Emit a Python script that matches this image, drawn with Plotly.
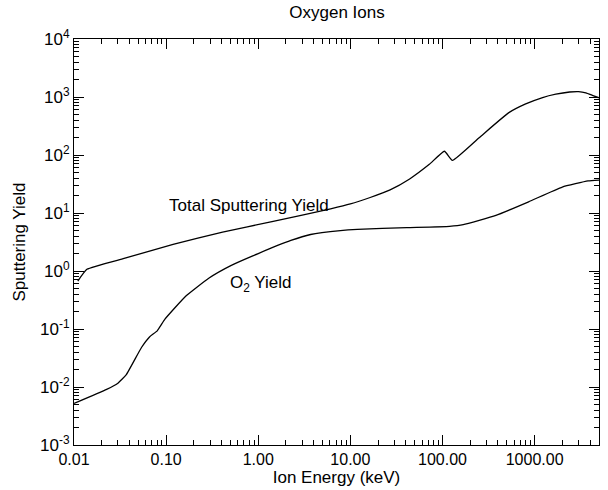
import plotly.graph_objects as go
import numpy as np

# Total sputtering yield
total_energy = [0.011, 0.0138, 0.035, 0.119, 0.41, 1.41, 6.1, 10, 16.4, 27, 44, 72,
                105, 128, 250, 525, 800, 1220, 1700, 2400, 3000, 3600, 4300, 5000]
total_yield = [0.67, 1.07, 1.65, 2.87, 4.7, 7.1, 11.8, 14.3, 18.5, 25, 38.6, 69,
               116, 81, 199, 537, 760, 980, 1120, 1220, 1240, 1180, 1060, 970]

# O2 yield
o2_energy = [0.01, 0.0226, 0.0297, 0.037, 0.054, 0.066, 0.08, 0.0975, 0.164, 0.29, 0.51,
             1.0, 2.26, 3.7, 7.8, 11.9, 41, 119, 168, 380, 861, 1995, 3800, 5000]
o2_yield = [0.0052, 0.0091, 0.0115, 0.0164, 0.048, 0.073, 0.093, 0.149, 0.37, 0.75, 1.25,
            2.0, 3.36, 4.26, 4.98, 5.24, 5.6, 5.9, 6.3, 9.1, 15.6, 28, 35.7, 37]

x_tickvals = [0.01, 0.1, 1, 10, 100, 1000]
x_ticktext = ["0.01", "0.10", "1.00", "10.00", "100.00", "1000.00"]
y_tickvals = [1e-3, 1e-2, 1e-1, 1, 10, 100, 1000, 1e4]
y_ticktext = ["10<sup>-3</sup>", "10<sup>-2</sup>", "10<sup>-1</sup>", "10<sup>0</sup>",
              "10<sup>1</sup>", "10<sup>2</sup>", "10<sup>3</sup>", "10<sup>4</sup>"]

X_RANGE = [-2, np.log10(5000)]
Y_RANGE = [-3, 4]
W, H = 608, 490
ML, MR, MT, MB = 74, 8, 39, 42

FONT = "Liberation Sans, Arial, Helvetica, sans-serif"

fig = go.Figure()
fig.add_trace(go.Scatter(x=total_energy, y=total_yield, mode="lines",
                         line=dict(color="black", width=1.3, shape="spline", smoothing=0.4),
                         showlegend=False))
fig.add_trace(go.Scatter(x=o2_energy, y=o2_yield, mode="lines",
                         line=dict(color="black", width=1.3, shape="spline", smoothing=0.4),
                         showlegend=False))

fig.add_annotation(x=np.log10(0.8), y=np.log10(13.3), xref="x", yref="y",
                   text="Total Sputtering Yield", showarrow=False,
                   font=dict(size=17, color="black", family=FONT))
fig.add_annotation(x=np.log10(1.05), y=np.log10(0.6), xref="x", yref="y",
                   text="O<sub>2</sub> Yield", showarrow=False,
                   font=dict(size=17, color="black", family=FONT))

axis_common = dict(
    showgrid=False, zeroline=False, showline=True, linecolor="black", linewidth=1,
    mirror="allticks", ticks="inside", ticklen=10, tickwidth=1.2, tickcolor="black",
    minor=dict(ticks="inside", ticklen=5, tickwidth=1.2, tickcolor="black",
               dtick="D1", showgrid=False),
)

fig.update_xaxes(type="log", range=X_RANGE,
                 tickmode="array", tickvals=x_tickvals, ticktext=x_ticktext,
                 tickfont=dict(size=16, color="black", family=FONT),
                 title=dict(text="Ion Energy (keV)", font=dict(size=17, color="black", family=FONT),
                            standoff=2),
                 **axis_common)
fig.update_yaxes(type="log", range=Y_RANGE,
                 tickmode="array", tickvals=y_tickvals, ticktext=y_ticktext,
                 tickfont=dict(size=17, color="black", family=FONT),
                 title=dict(text="Sputtering Yield", font=dict(size=17, color="black", family=FONT),
                            standoff=10),
                 **axis_common)

fig.update_layout(
    width=W, height=H,
    margin=dict(l=ML, r=MR, t=MT, b=MB),
    paper_bgcolor="white", plot_bgcolor="white",
    title=dict(text="Oxygen Ions", x=(ML + W - MR) / 2 / W, xanchor="center",
               y=1 - 12 / H, yanchor="middle",
               font=dict(size=17, color="black", family=FONT)),
    font=dict(family=FONT, color="black"),
)

fig.write_html("out.html")
